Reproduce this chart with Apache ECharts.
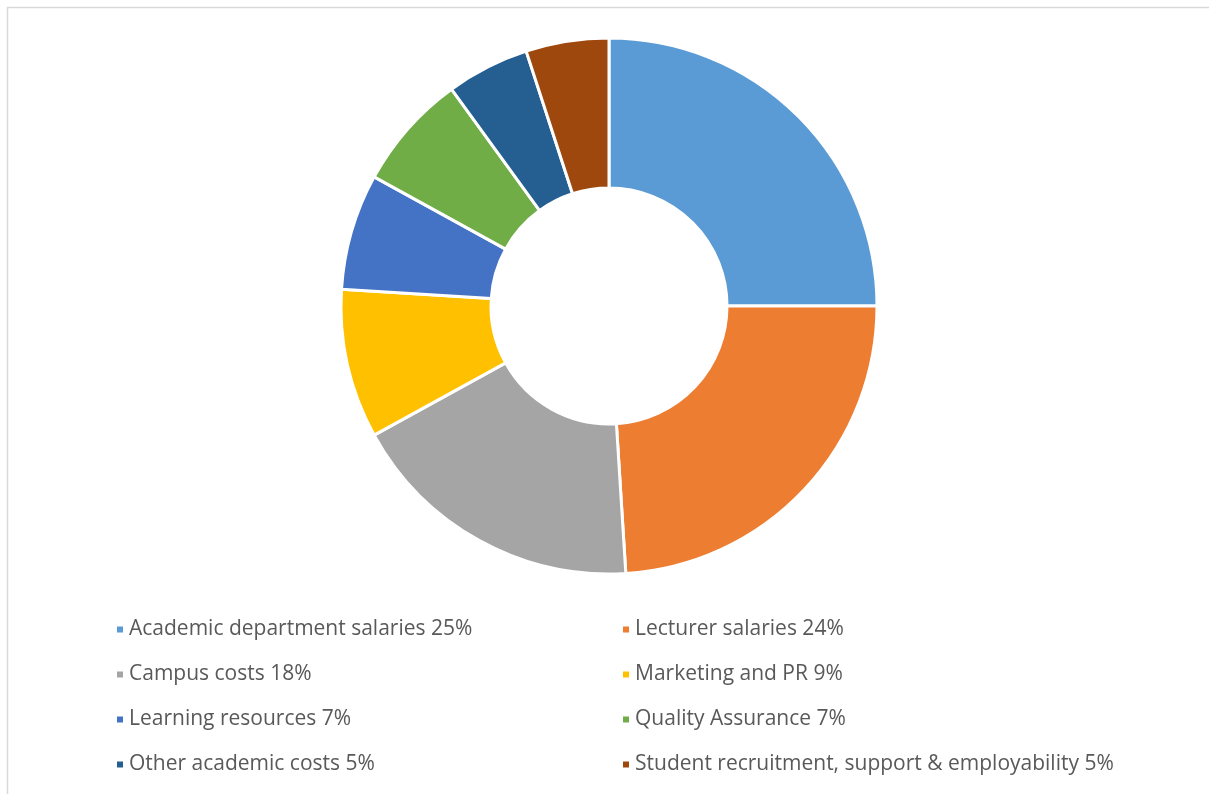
<!DOCTYPE html>
<html>
<head>
<meta charset="utf-8">
<script src="https://cdn.jsdelivr.net/npm/echarts@6/dist/echarts.min.js"></script>
<style>
html,body{margin:0;padding:0;background:#fff;}
#chart{width:1209px;height:794px;}
</style>
</head>
<body>
<div id="chart"></div>
<script>
const categories = [
  'Academic department salaries',
  'Lecturer salaries',
  'Campus costs',
  'Marketing and PR',
  'Learning resources',
  'Quality Assurance',
  'Other academic costs',
  'Student recruitment, support & employability'
];
const values = [25, 24, 18, 9, 7, 7, 5, 5];
const colors = ['#5B9BD5', '#ED7D31', '#A5A5A5', '#FFC000', '#4472C4', '#70AD47', '#255E91', '#9E480E'];

const chart = echarts.init(document.getElementById('chart'));
const valueByName = {};
categories.forEach((c, i) => valueByName[c] = values[i]);

const legendCommon = {
  orient: 'vertical',
  top: 619,
  padding: 0,
  itemWidth: 8,
  itemHeight: 8,
  itemGap: 24,
  icon: 'rect',
  selectedMode: false,
  textStyle: { fontFamily: 'Open Sans', fontSize: 21, color: '#595959', padding: [0, 0, 0, 0] },
  formatter: name => name + ' ' + valueByName[name] + '%'
};

chart.setOption({
  animation: false,
  color: colors,
  graphic: [{
    type: 'rect',
    shape: { x: 7.5, y: 7.5, width: 1300, height: 900 },
    style: { fill: 'none', stroke: '#d9d9d9', lineWidth: 1.5 },
    silent: true
  }],
  legend: [
    Object.assign({}, legendCommon, { left: 115, data: categories.filter((c, i) => i % 2 === 0) }),
    Object.assign({}, legendCommon, { left: 621, data: categories.filter((c, i) => i % 2 === 1) })
  ],
  series: [{
    type: 'pie',
    center: [609, 306],
    radius: [118, 268],
    startAngle: 90,
    clockwise: true,
    label: { show: false },
    labelLine: { show: false },
    emphasis: { disabled: true },
    itemStyle: { borderColor: '#ffffff', borderWidth: 3 },
    data: categories.map((c, i) => ({ name: c, value: values[i] }))
  }]
});
</script>
</body>
</html>
